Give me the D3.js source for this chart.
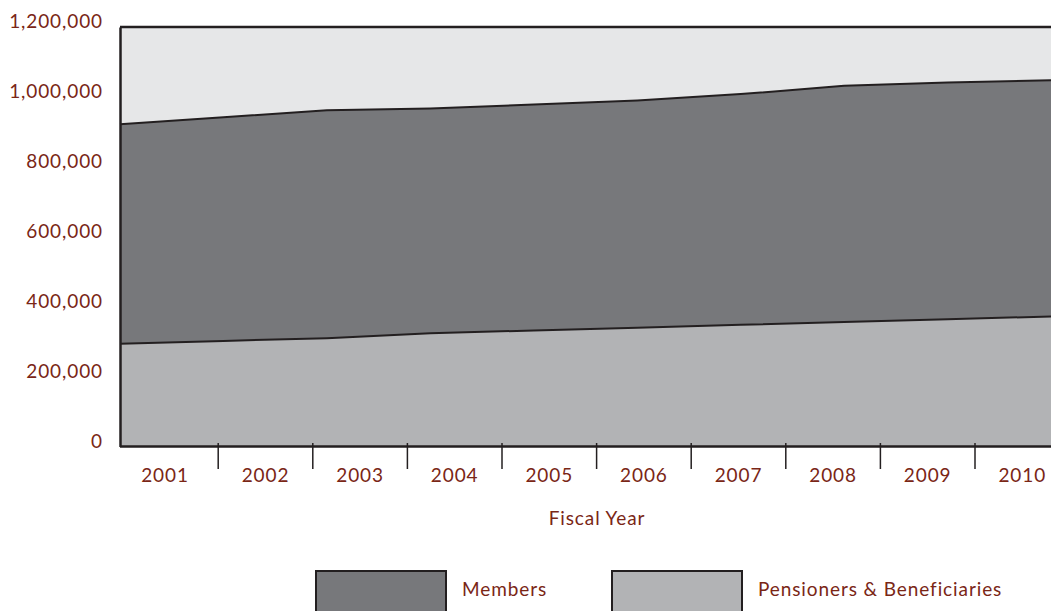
<!DOCTYPE html>
<html>
<head>
<meta charset="utf-8">
<script src="https://cdn.jsdelivr.net/npm/d3@7"></script>
<style>
  html, body { margin: 0; padding: 0; background: #ffffff; }
  svg { display: block; }
  text { font-family: "Lato", "DejaVu Sans", sans-serif; fill: #7a2616; letter-spacing: 0.9px; }
</style>
</head>
<body>
<svg id="chart" width="1051" height="611"></svg>
<script>
// ---- data ----
const years = ["2001","2002","2003","2004","2005","2006","2007","2008","2009","2010"];
const pensioners = [294000, 302000, 310000, 324000, 332000, 340000, 348000, 356000, 364000, 372000];
const members    = [628000, 640000, 652000, 643000, 646000, 650000, 660000, 676000, 677000, 676000];
const yTicks = [0, 200000, 400000, 600000, 800000, 1000000, 1200000];
const seriesNames = ["Pensioners & Beneficiaries", "Members"];
const legendOrder = ["Members", "Pensioners & Beneficiaries"];

// ---- layout ----
const svg = d3.select("#chart");
const plotLeft = 120, plotRight = 1051, plotTop = 27, plotBottom = 446.5;
const colors = { "Members": "#77787b", "Pensioners & Beneficiaries": "#b2b3b5" };
const lineColor = "#231f20";

const x = d3.scalePoint().domain(years).range([plotLeft, plotRight]);
const xBand = d3.scaleBand().domain(years).range([123.6, 1069.6]);
const y = d3.scaleLinear().domain([0, 1200000]).range([plotBottom, plotTop]);

const rows = years.map((yr, i) => ({ year: yr, "Pensioners & Beneficiaries": pensioners[i], "Members": members[i] }));
const stacked = d3.stack().keys(seriesNames)(rows);

// plot background
svg.append("rect")
  .attr("x", plotLeft).attr("y", plotTop)
  .attr("width", plotRight - plotLeft).attr("height", plotBottom - plotTop)
  .attr("fill", "#e6e7e8");

const area = d3.area()
  .x(d => x(d.data.year))
  .y0(d => y(d[0]))
  .y1(d => y(d[1]));

svg.selectAll("path.area")
  .data(stacked)
  .join("path")
  .attr("class", "area")
  .attr("fill", d => colors[d.key])
  .attr("d", area);

const line = d3.line().x(d => x(d.data.year)).y(d => y(d[1]));
svg.selectAll("path.topline")
  .data(stacked)
  .join("path")
  .attr("class", "topline")
  .attr("fill", "none")
  .attr("stroke", lineColor)
  .attr("stroke-width", 2)
  .attr("d", line);

// frame: top border
svg.append("line")
  .attr("x1", plotLeft).attr("x2", plotRight)
  .attr("y1", y(1200000)).attr("y2", y(1200000))
  .attr("stroke", lineColor).attr("stroke-width", 2.5);

// y axis labels
const yAxis = d3.axisLeft(y).tickValues(yTicks).tickSize(0).tickPadding(17)
  .tickFormat(d3.format(","));
const gy = svg.append("g").attr("transform", `translate(${plotLeft},0)`).call(yAxis);
gy.select(".domain").attr("stroke", lineColor).attr("stroke-width", 2.5);
gy.selectAll(".tick text")
  .attr("dy", "0.05em")
  .style("font-size", "19px")
  .style("font-family", "Lato, 'DejaVu Sans', sans-serif")
  .style("letter-spacing", "0.9px")
  .attr("fill", "#7a2616");

// x axis
svg.append("line")
  .attr("x1", plotLeft).attr("x2", plotRight)
  .attr("y1", plotBottom).attr("y2", plotBottom)
  .attr("stroke", lineColor).attr("stroke-width", 2.5);

const tickYears = years.slice(1);
svg.selectAll("line.xtick")
  .data(tickYears)
  .join("line")
  .attr("class", "xtick")
  .attr("x1", d => xBand(d)).attr("x2", d => xBand(d))
  .attr("y1", 443).attr("y2", 469)
  .attr("stroke", lineColor).attr("stroke-width", 1.5);

svg.selectAll("text.xlabel")
  .data(years)
  .join("text")
  .attr("class", "xlabel")
  .attr("x", (d, i) => i === 0 ? 165 : xBand(d) + xBand.bandwidth() / 2)
  .attr("y", 482)
  .attr("text-anchor", "middle")
  .style("font-size", "19px")
  .text(d => d);

svg.append("text")
  .attr("x", 597).attr("y", 525)
  .attr("text-anchor", "middle")
  .style("font-size", "19px")
  .text("Fiscal Year");

// legend
const legendX = { "Members": 316, "Pensioners & Beneficiaries": 612 };
const lg = svg.selectAll("g.legend")
  .data(legendOrder)
  .join("g")
  .attr("class", "legend")
  .attr("transform", d => `translate(${legendX[d]},571)`);
lg.append("rect")
  .attr("width", 130).attr("height", 50)
  .attr("fill", d => colors[d])
  .attr("stroke", lineColor).attr("stroke-width", 2);
lg.append("text")
  .attr("x", 146).attr("y", 25)
  .style("font-size", "19px")
  .text(d => d);
</script>
</body>
</html>
